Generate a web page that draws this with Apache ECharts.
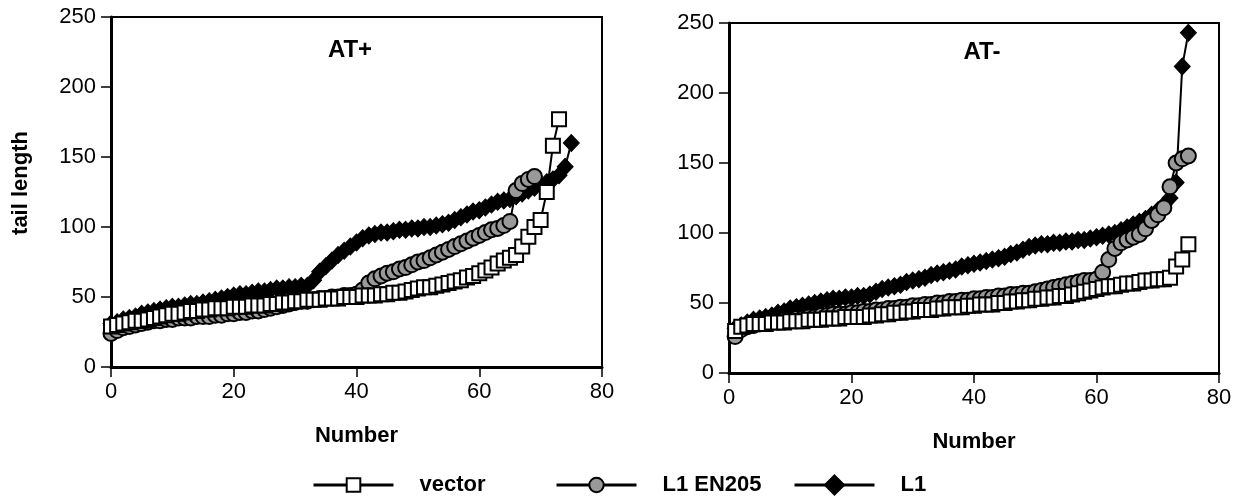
<!DOCTYPE html>
<html lang="en">
<head>
  <meta charset="UTF-8">
  <title>tail length</title>
  <script src="https://cdn.jsdelivr.net/npm/echarts@6/dist/echarts.min.js"></script>
  <style>
    html, body { margin: 0; padding: 0; background: #fff; }
    #chart { width: 1240px; height: 503px; }
  </style>
</head>
<body>
  <div id="chart"></div>
  <script>
    // AT+ panel, x starts at 0
    var atpVector = [29, 30, 31, 32, 33, 33, 34, 35, 36, 37, 38,
      38, 39, 40, 40, 41, 41, 42, 42, 42, 43,
      43, 43, 44, 44, 44, 45, 45, 46, 46, 47,
      47, 48, 48, 48, 49, 49, 49, 50, 50, 50,
      51, 51, 51, 52, 52, 53, 53, 54, 55, 56,
      57, 57, 58, 59, 60, 61, 62, 64, 65, 67,
      69, 71, 74, 76, 78, 80, 86, 93, 100, 105,
      125, 158, 177];
    var atpEN205 = [24, 26, 28, 29, 30, 31, 32, 33, 33, 34, 34,
      35, 35, 35, 36, 36, 36, 37, 37, 38, 38,
      39, 39, 40, 40, 41, 42, 43, 44, 45, 46,
      47, 47, 48, 49, 49, 50, 50, 51, 51, 52,
      55, 60, 63, 65, 67, 68, 70, 71, 73, 75,
      76, 78, 80, 82, 84, 86, 88, 90, 92, 94,
      96, 98, 99, 101, 104, 126, 131, 134, 136];
    var atpL1 = [31, 32, 34, 35, 36, 38, 39, 40, 41, 42, 43,
      43, 44, 45, 45, 46, 47, 48, 49, 50, 51,
      52, 52, 53, 54, 54, 55, 56, 56, 57, 57,
      58, 58, 62, 68, 72, 76, 80, 83, 86, 89,
      92, 94, 95, 96, 96, 97, 98, 98, 99, 99,
      100, 100, 101, 102, 103, 105, 107, 109, 111, 112,
      114, 116, 118, 119, 120, 122, 124, 126, 128, 130,
      132, 134, 137, 143, 160];

    // AT- panel, x starts at 1
    var atmVector = [30, 33, 34, 35, 35, 35, 36, 36, 36, 37,
      37, 37, 38, 38, 38, 39, 39, 39, 40, 40,
      40, 40, 41, 41, 42, 42, 43, 43, 44, 44,
      45, 45, 45, 46, 46, 47, 47, 47, 48, 48,
      49, 49, 49, 50, 50, 51, 51, 52, 52, 53,
      53, 54, 54, 55, 55, 56, 57, 58, 59, 60,
      61, 62, 62, 63, 64, 64, 65, 66, 66, 67,
      67, 68, 76, 81, 92];
    var atmEN205 = [26, 31, 33, 34, 35, 36, 37, 37, 38, 38,
      39, 39, 40, 40, 41, 41, 42, 42, 42, 43,
      43, 44, 44, 45, 45, 46, 46, 47, 47, 48,
      48, 49, 49, 50, 50, 51, 51, 52, 52, 53,
      53, 54, 54, 55, 55, 56, 56, 57, 57, 58,
      59, 60, 61, 62, 63, 64, 65, 66, 66, 67,
      72, 81, 89, 93, 95, 97, 99, 103, 109, 113,
      118, 133, 150, 153, 155];
    var atmL1 = [32, 34, 36, 38, 39, 40, 41, 43, 44, 46,
      47, 48, 49, 50, 51, 52, 53, 53, 54, 54,
      55, 55, 56, 58, 60, 61, 62, 63, 65, 66,
      67, 68, 70, 71, 72, 73, 74, 76, 77, 78,
      79, 80, 81, 82, 83, 85, 86, 88, 90, 91,
      92, 92, 93, 93, 94, 94, 95, 95, 96, 97,
      98, 99, 100, 102, 104, 106, 108, 110, 113, 116,
      120, 125, 136, 219, 243];

    var xTicks = [0, 20, 40, 60, 80];
    var yTicks = [0, 50, 100, 150, 200, 250];
    var panelTitles = ['AT+', 'AT-'];
    var names = ['vector', 'L1 EN205', 'L1'];

    var FONT = "'Liberation Sans', Arial, Helvetica, sans-serif";

    function toPoints(arr, start) {
      return arr.map(function (v, i) { return [start + i, v]; });
    }

    function xAxisFor(idx) {
      return {
        type: 'value', gridIndex: idx,
        min: xTicks[0], max: xTicks[xTicks.length - 1], interval: xTicks[1] - xTicks[0],
        name: 'Number', nameLocation: 'middle', nameGap: 58,
        nameTextStyle: { fontFamily: FONT, fontSize: 22, fontWeight: 'bold', color: '#000' },
        axisLine: { show: true, onZero: false, lineStyle: { color: '#000', width: 3 } },
        axisTick: { show: true, inside: false, length: 10, lineStyle: { color: '#000', width: 1.5 } },
        axisLabel: { margin: 14, fontFamily: FONT, fontSize: 22, color: '#000' },
        splitLine: { show: false }
      };
    }
    function yAxisFor(idx) {
      return {
        type: 'value', gridIndex: idx,
        min: yTicks[0], max: yTicks[yTicks.length - 1], interval: yTicks[1] - yTicks[0],
        axisLine: { show: true, onZero: false, lineStyle: { color: '#000', width: 3 } },
        axisTick: { show: true, inside: false, length: 10, lineStyle: { color: '#000', width: 1.5 } },
        axisLabel: { margin: 15, fontFamily: FONT, fontSize: 22, color: '#000' },
        splitLine: { show: false }
      };
    }

    var styles = {
      'vector': { symbol: 'rect', symbolSize: 14, itemStyle: { color: '#fff', borderColor: '#000', borderWidth: 2 } },
      'L1 EN205': { symbol: 'circle', symbolSize: 15, itemStyle: { color: '#999', borderColor: '#000', borderWidth: 2 } },
      'L1': { symbol: 'diamond', symbolSize: [16, 17], itemStyle: { color: '#000', borderColor: '#000', borderWidth: 1 } }
    };

    function mkSeries(name, arr, start, idx) {
      var s = styles[name];
      return {
        type: 'line', name: name, xAxisIndex: idx, yAxisIndex: idx,
        data: toPoints(arr, start),
        symbol: s.symbol, symbolSize: s.symbolSize, showSymbol: true,
        itemStyle: s.itemStyle,
        lineStyle: { color: '#000', width: 2 },
        animation: false
      };
    }

    function mkLegend(name, left, h) {
      return {
        data: [name], left: left, top: 487 - 13, padding: 0,
        orient: 'horizontal', selectedMode: false,
        itemWidth: 80, itemHeight: h,
        lineStyle: { width: 3, color: '#000' },
        textStyle: { fontFamily: FONT, fontSize: 22, fontWeight: 'bold', color: '#000', padding: [0, 0, 0, 21] }
      };
    }

    var chart = echarts.init(document.getElementById('chart'), null, { renderer: 'canvas' });
    chart.setOption({
      backgroundColor: '#fff',
      animation: false,
      grid: [
        { left: 111, top: 17, width: 491, height: 350, show: true, borderColor: '#000', borderWidth: 2, containLabel: false },
        { left: 729, top: 23, width: 490, height: 350, show: true, borderColor: '#000', borderWidth: 2, containLabel: false }
      ],
      xAxis: [xAxisFor(0), xAxisFor(1)],
      yAxis: [yAxisFor(0), yAxisFor(1)],
      legend: [
        mkLegend('vector', 312, 17),
        mkLegend('L1 EN205', 555, 18),
        mkLegend('L1', 793, 24)
      ],
      graphic: [
        { type: 'text', x: 21, y: 183, rotation: Math.PI / 2,
          style: { text: 'tail length', font: 'bold 22px ' + FONT, fill: '#000', textAlign: 'center', textVerticalAlign: 'middle' } },
        { type: 'text', x: 350, y: 50,
          style: { text: panelTitles[0], font: 'bold 24px ' + FONT, fill: '#000', textAlign: 'center', textVerticalAlign: 'middle' } },
        { type: 'text', x: 982, y: 52,
          style: { text: panelTitles[1], font: 'bold 24px ' + FONT, fill: '#000', textAlign: 'center', textVerticalAlign: 'middle' } }
      ],
      series: [
        mkSeries('L1', atpL1, 0, 0),
        mkSeries('L1 EN205', atpEN205, 0, 0),
        mkSeries('vector', atpVector, 0, 0),
        mkSeries('L1', atmL1, 1, 1),
        mkSeries('L1 EN205', atmEN205, 1, 1),
        mkSeries('vector', atmVector, 1, 1)
      ]
    });
  </script>
</body>
</html>
